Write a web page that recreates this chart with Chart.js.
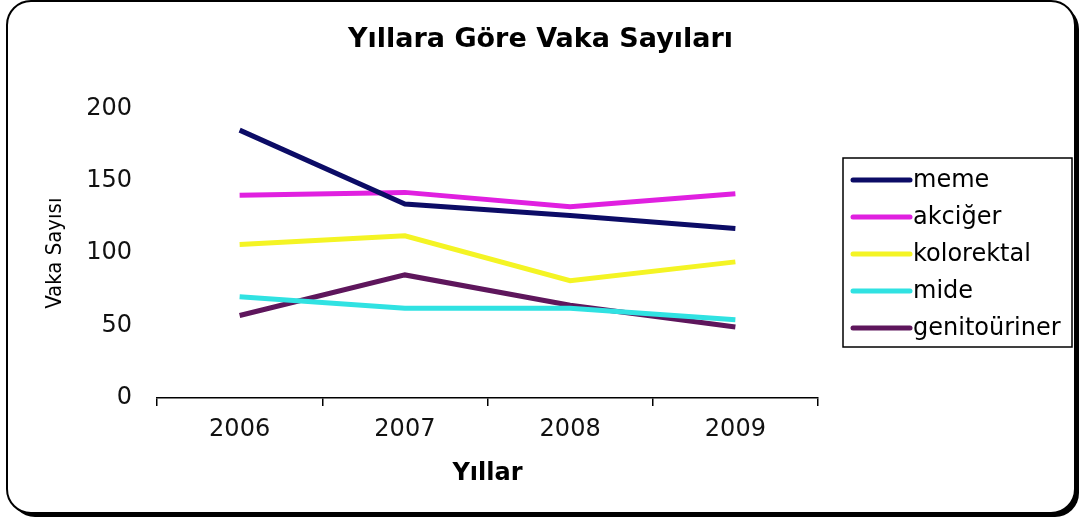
<!DOCTYPE html>
<html>
<head>
<meta charset="utf-8">
<script src="https://cdn.jsdelivr.net/npm/chart.js@4/dist/chart.umd.min.js"></script>
<style>
  html, body { margin: 0; padding: 0; background: #fff; }
  canvas { display: block; }
</style>
</head>
<body>
<canvas id="chart" width="1081" height="522"></canvas>
<script>
const years = ['2006', '2007', '2008', '2009']
const meme = [185, 134, 126, 117]
const akciger = [140, 142, 132, 141]
const kolorektal = [106, 112, 81, 94]
const mide = [70, 62, 62, 54]
const genitouriner = [57, 85, 64, 49]
const yTicks = [0, 50, 100, 150, 200]

const FONT = 'DejaVu Sans, Verdana, sans-serif'

function roundPath(ctx, x, y, w, h, r) {
  ctx.beginPath()
  ctx.moveTo(x + r, y)
  ctx.lineTo(x + w - r, y)
  ctx.arcTo(x + w, y, x + w, y + r, r)
  ctx.lineTo(x + w, y + h - r)
  ctx.arcTo(x + w, y + h, x + w - r, y + h, r)
  ctx.lineTo(x + r, y + h)
  ctx.arcTo(x, y + h, x, y + h - r, r)
  ctx.lineTo(x, y + r)
  ctx.arcTo(x, y, x + r, y, r)
  ctx.closePath()
}

// rounded frame with a dark drop shadow on the bottom/right
const framePlugin = {
  id: 'frame',
  beforeDraw(chart) {
    const ctx = chart.ctx
    ctx.save()
    ctx.fillStyle = '#fff'
    ctx.fillRect(0, 0, chart.width, chart.height)
    roundPath(ctx, 11, 5, 1068, 512, 24)
    ctx.fillStyle = '#000'
    ctx.fill()
    roundPath(ctx, 7, 1, 1068, 512, 24)
    ctx.fillStyle = '#fff'
    ctx.fill()
    ctx.lineWidth = 2
    ctx.strokeStyle = '#000'
    ctx.stroke()
    ctx.restore()
  }
}

// boxed legend to the right of the plot
const legendBox = {
  id: 'legendBox',
  afterDraw(chart) {
    const ctx = chart.ctx
    const left = chart.chartArea.right + 25
    const top = 158
    ctx.save()
    ctx.strokeStyle = '#000'
    ctx.lineWidth = 1.5
    ctx.strokeRect(left, top, 229, 189)
    ctx.font = '24px ' + FONT
    ctx.textBaseline = 'middle'
    ctx.textAlign = 'left'
    chart.data.datasets.forEach((ds, i) => {
      const y = top + 22 + i * 37
      ctx.strokeStyle = ds.borderColor
      ctx.lineWidth = 5
      ctx.lineCap = 'round'
      ctx.beginPath()
      ctx.moveTo(left + 10, y)
      ctx.lineTo(left + 67, y)
      ctx.stroke()
      ctx.fillStyle = '#000'
      ctx.fillText(ds.label, left + 70, y + 1)
    })
    ctx.restore()
  }
}

function line(label, data, color) {
  return {
    label: label,
    data: data,
    borderColor: color,
    backgroundColor: color,
    borderWidth: 5,
    pointRadius: 0,
    tension: 0,
    fill: false
  }
}

const ctx = document.getElementById('chart').getContext('2d')
new Chart(ctx, {
  type: 'line',
  data: {
    labels: years,
    datasets: [
      line('meme', meme, '#0c0c66'),
      line('akciğer', akciger, '#e020e0'),
      line('kolorektal', kolorektal, '#f4f424'),
      line('mide', mide, '#30e2e2'),
      line('genitoüriner', genitouriner, '#5e165c')
    ]
  },
  options: {
    responsive: false,
    animation: false,
    layout: { padding: 0 },
    plugins: {
      legend: { display: false },
      tooltip: { enabled: false },
      title: {
        display: true,
        text: 'Yıllara Göre Vaka Sayıları',
        color: '#000',
        font: { family: FONT, size: 27, weight: 'bold' },
        padding: { top: 24, bottom: 52 }
      }
    },
    scales: {
      x: {
        offset: true,
        afterFit(scale) { scale.height = 124 },
        grid: {
          display: true,
          offset: true,
          drawOnChartArea: false,
          drawTicks: true,
          tickLength: 8,
          color: '#000',
          lineWidth: 1.5
        },
        border: { display: true, color: '#000', width: 1.5 },
        ticks: {
          color: '#111',
          padding: 9,
          font: { family: FONT, size: 24 }
        },
        title: {
          display: true,
          text: 'Yıllar',
          color: '#000',
          font: { family: FONT, size: 24, weight: 'bold' },
          padding: { top: 0, bottom: 34 }
        }
      },
      y: {
        min: 0,
        max: 200,
        afterFit(scale) { scale.width = 157 },
        afterBuildTicks(scale) { scale.ticks = yTicks.map(v => ({ value: v })) },
        grid: { display: false },
        border: { display: false },
        ticks: {
          color: '#111',
          padding: 17,
          font: { family: FONT, size: 24 }
        },
        title: {
          display: true,
          text: 'Vaka Sayısı',
          color: '#000',
          font: { family: 'DejaVu Sans Condensed, DejaVu Sans, sans-serif', size: 22 },
          padding: { top: 42, bottom: 0 }
        }
      },
      // empty right-hand scale that only reserves room for the legend box
      side: {
        type: 'linear',
        position: 'right',
        display: true,
        afterFit(scale) { scale.width = 263 },
        grid: { display: false },
        border: { display: false },
        ticks: { display: false }
      }
    }
  },
  plugins: [framePlugin, legendBox]
})
</script>
</body>
</html>
